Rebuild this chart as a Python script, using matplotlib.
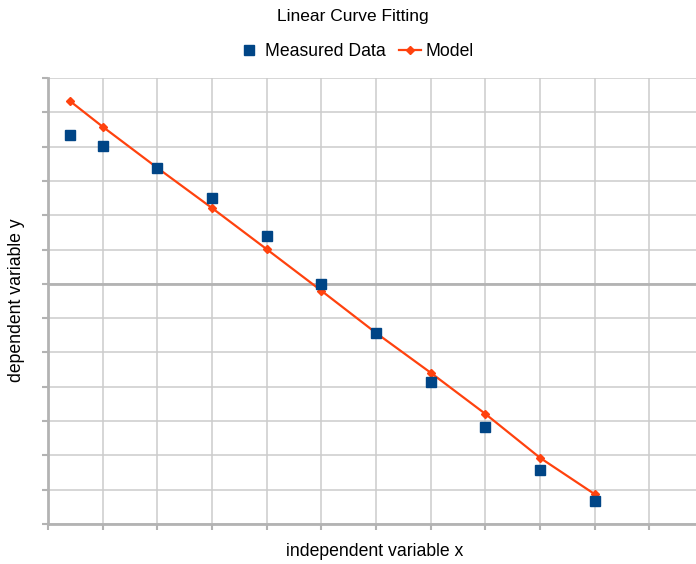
import matplotlib
matplotlib.use('Agg')
import matplotlib.pyplot as plt
from matplotlib.lines import Line2D

plt.rcParams['font.family'] = ['Liberation Sans', 'DejaVu Sans']

# values (grid units)
x_meas = [0.4, 1, 2, 3, 4, 5, 6, 7, 8, 9, 10]
y_meas = [4.34, 4.02, 3.38, 2.51, 1.40, 0.0, -1.43, -2.86, -4.17, -5.42, -6.33]
x_model = [0.4, 1, 2, 3, 4, 5, 6, 7, 8, 9, 10]
y_model = [5.33, 4.58, 3.38, 2.21, 1.01, -0.20, -1.43, -2.59, -3.79, -5.07, -6.13]

blue = '#004586'
orange = '#ff420e'
grid = '#cccccc'

fig = plt.figure(figsize=(6.96, 5.64), dpi=100)
ax = fig.add_axes([48 / 696, 40 / 564, 656 / 696, 446 / 564])

ax.set_xlim(0, 12)
ax.set_ylim(-7, 6)
ax.set_xticks(range(0, 13))
ax.set_yticks(range(-7, 7))
ax.set_xticklabels([])
ax.set_yticklabels([])
ax.grid(True, color=grid, linewidth=1.1)
ax.set_axisbelow(True)
ax.axhline(0, color='#b3b3b3', linewidth=2, zorder=1)

for s in ['top', 'right']:
    ax.spines[s].set_visible(False)
for s in ['left', 'bottom']:
    ax.spines[s].set_color('#b3b3b3')
    ax.spines[s].set_linewidth(2)
ax.tick_params(length=4, width=1.5, color='#b3b3b3')

ax.plot(x_model, y_model, color=orange, linewidth=1.6, marker='D',
        markersize=4, zorder=3)
ax.plot(x_meas, y_meas, linestyle='none', marker='s', color=blue,
        markersize=6.5, zorder=4)

# axis titles placed like the reference
fig.text(375 / 696, 1 - 551 / 564, 'independent variable x', ha='center',
         va='center', fontsize=12.7)
fig.text(17 / 696, 1 - 300 / 564, 'dependent variable y', ha='center',
         va='center', rotation=90, fontsize=12.7)

fig.text(353 / 696, 1 - 17 / 564, 'Linear Curve Fitting', ha='center',
         va='center', fontsize=12.5)

handles = [Line2D([], [], linestyle='none', marker='s', color=blue, markersize=7),
           Line2D([], [], color=orange, linewidth=1.6, marker='D', markersize=4)]
fig.legend(handles, ['Measured Data', 'Model'], loc='center',
           bbox_to_anchor=(356 / 696, 1 - 52 / 564), ncol=2, frameon=False,
           fontsize=12.7, handlelength=1.2, handletextpad=0.3, columnspacing=0.8)

fig.savefig('out.png', dpi=100)
